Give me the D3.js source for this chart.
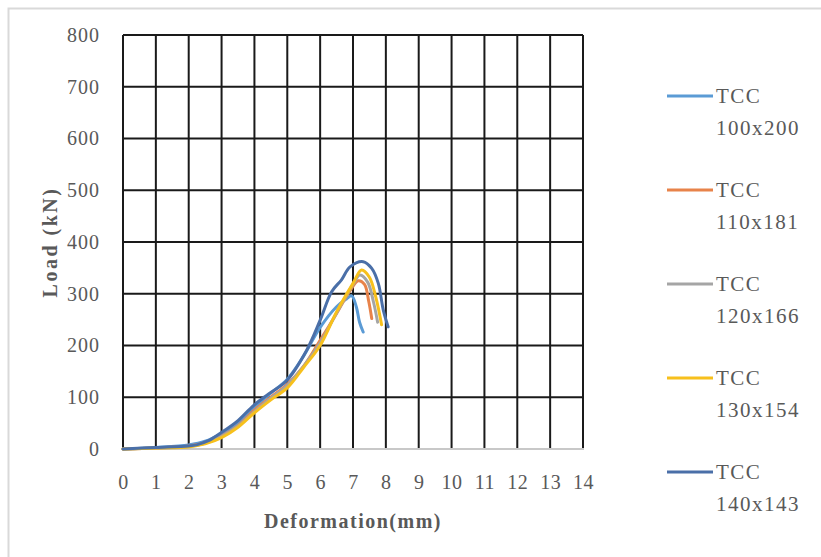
<!DOCTYPE html>
<html>
<head>
<meta charset="utf-8">
<script src="https://cdn.jsdelivr.net/npm/d3@7"></script>
<style>
  body { margin: 0; background: #fff; }
  svg text { font-family: "Liberation Serif", "Times New Roman", serif; }
</style>
</head>
<body>
<div id="chart"></div>
<script>
// Series names and colours (legend order)
const seriesNames = ["TCC 100x200", "TCC 110x181", "TCC 120x166", "TCC 130x154", "TCC 140x143"]
const seriesColors = ["#5b9bd5", "#e8834a", "#a5a5a5", "#f7c01c", "#4a6fa8"]

// Deformation (mm) / load (kN) pairs
const def100 = [0, 1, 2, 2.5, 3, 3.5, 4, 4.5, 5, 5.5, 6, 6.5, 6.8, 6.96, 7.1, 7.2, 7.31]
const load100 = [0, 3, 8, 15, 30, 50, 80, 108, 135, 180, 235, 275, 290, 296, 275, 245, 226]
const def110 = [0, 1, 2, 2.5, 3, 3.5, 4, 4.5, 5, 5.5, 6, 6.5, 6.9, 7.16, 7.35, 7.48, 7.57]
const load110 = [0, 2, 6, 12, 25, 45, 75, 100, 125, 160, 210, 262, 305, 325, 318, 285, 252]
const def120 = [0, 1, 2, 2.5, 3, 3.5, 4, 4.5, 5, 5.5, 6, 6.5, 7, 7.21, 7.45, 7.62, 7.75]
const load120 = [0, 2, 5, 11, 24, 44, 72, 98, 123, 160, 205, 263, 318, 336, 322, 285, 245]
const def130 = [0, 1, 2, 2.5, 3, 3.5, 4, 4.5, 5, 5.5, 6, 6.5, 7, 7.26, 7.5, 7.7, 7.87]
const load130 = [0, 2, 4, 10, 22, 42, 70, 95, 118, 158, 200, 265, 320, 346, 332, 292, 240]
const def140 = [0, 1, 2, 2.24, 2.6, 2.95, 3.5, 3.97, 4.42, 4.98, 5.59, 6.0, 6.35, 6.65, 6.91, 7.31, 7.57, 7.77, 7.92, 8.07]
const load140 = [0, 3, 6, 8, 16, 30, 55, 84, 106, 132, 191, 249, 304, 327, 352, 362, 349, 320, 269, 236]

const xDefs = [def100, def110, def120, def130, def140]
const yLoads = [load100, load110, load120, load130, load140]

// Axis ticks
const xTicks = d3.range(0, 15, 1)
const yTicks = d3.range(0, 801, 100)

const width = 821
const height = 557
const margin = { left: 123, right: 238, top: 35, bottom: 108 }

const svg = d3.select("#chart")
  .append("svg")
  .attr("width", width)
  .attr("height", height)

// Outer chart border (only the top and left edges show in the picture)
svg.append("path")
  .attr("d", `M8.5,${height} L8.5,8.5 L${width},8.5`)
  .attr("fill", "none")
  .attr("stroke", "#d9d9d9")
  .attr("stroke-width", 2)

const xScale = d3.scaleLinear()
  .domain([0, 14])
  .range([margin.left, width - margin.right])

const yScale = d3.scaleLinear()
  .domain([0, 800])
  .range([height - margin.bottom, margin.top])

// Grid
const grid = svg.append("g")
grid.selectAll("line.v")
  .data(xTicks)
  .enter()
  .append("line")
  .attr("x1", d => xScale(d))
  .attr("x2", d => xScale(d))
  .attr("y1", yScale(800))
  .attr("y2", yScale(0))
  .attr("stroke", "#1a1a1a")
  .attr("stroke-width", 2)

grid.selectAll("line.h")
  .data(yTicks.filter(d => d > 0))
  .enter()
  .append("line")
  .attr("x1", xScale(0))
  .attr("x2", xScale(14))
  .attr("y1", d => yScale(d))
  .attr("y2", d => yScale(d))
  .attr("stroke", "#1a1a1a")
  .attr("stroke-width", 2)

// Bottom axis line (light grey)
svg.append("line")
  .attr("x1", xScale(0))
  .attr("x2", xScale(14) + 1)
  .attr("y1", yScale(0))
  .attr("y2", yScale(0))
  .attr("stroke", "#c8c8c8")
  .attr("stroke-width", 2)

// Tick labels
const xAxis = d3.axisBottom(xScale).tickValues(xTicks).tickSize(0).tickPadding(26)
svg.append("g")
  .attr("transform", `translate(0,${yScale(0)})`)
  .call(xAxis)
  .call(g => g.select(".domain").remove())
  .selectAll("text")
  .attr("font-family", "Liberation Serif")
  .attr("font-size", 20)
  .attr("letter-spacing", 0.5)
  .attr("fill", "#595959")

const yAxis = d3.axisLeft(yScale).tickValues(yTicks).tickSize(0).tickPadding(23)
svg.append("g")
  .attr("transform", `translate(${xScale(0)},0)`)
  .call(yAxis)
  .call(g => g.select(".domain").remove())
  .selectAll("text")
  .attr("font-family", "Liberation Serif")
  .attr("font-size", 20)
  .attr("letter-spacing", 1)
  .attr("fill", "#595959")

// Curves
const line = d3.line()
  .x(d => xScale(d[0]))
  .y(d => yScale(d[1]))
  .curve(d3.curveCatmullRom.alpha(0.5))

seriesNames.forEach((name, i) => {
  const pts = d3.zip(xDefs[i], yLoads[i])
  svg.append("path")
    .datum(pts)
    .attr("d", line)
    .attr("fill", "none")
    .attr("stroke", seriesColors[i])
    .attr("stroke-width", 3)
    .attr("stroke-linejoin", "round")
    .attr("stroke-linecap", "round")
})

// Axis titles
svg.append("text")
  .attr("x", (xScale(0) + xScale(14)) / 2)
  .attr("y", 528)
  .attr("text-anchor", "middle")
  .attr("font-size", 20)
  .attr("font-weight", "bold")
  .attr("letter-spacing", 1.5)
  .attr("fill", "#595959")
  .text("Deformation(mm)")

svg.append("text")
  .attr("transform", `translate(57,${(yScale(0) + yScale(800)) / 2}) rotate(-90)`)
  .attr("text-anchor", "middle")
  .attr("font-size", 20)
  .attr("font-weight", "bold")
  .attr("letter-spacing", 2.5)
  .attr("fill", "#595959")
  .text("Load (kN)")

// Legend
const legend = svg.append("g").attr("id", "legend")
seriesNames.forEach((name, i) => {
  const y = 96 + i * 94
  legend.append("line")
    .attr("x1", 667).attr("x2", 713)
    .attr("y1", y).attr("y2", y)
    .attr("stroke", seriesColors[i])
    .attr("stroke-width", 3)
  const parts = name.split(" ")
  legend.append("text")
    .attr("x", 716).attr("y", y + 7)
    .attr("font-size", 21)
    .attr("letter-spacing", 1.5)
    .attr("fill", "#595959")
    .text(parts[0])
  legend.append("text")
    .attr("x", 716).attr("y", y + 39)
    .attr("font-size", 21)
    .attr("letter-spacing", 1.5)
    .attr("fill", "#595959")
    .text(parts[1])
})
</script>
</body>
</html>
